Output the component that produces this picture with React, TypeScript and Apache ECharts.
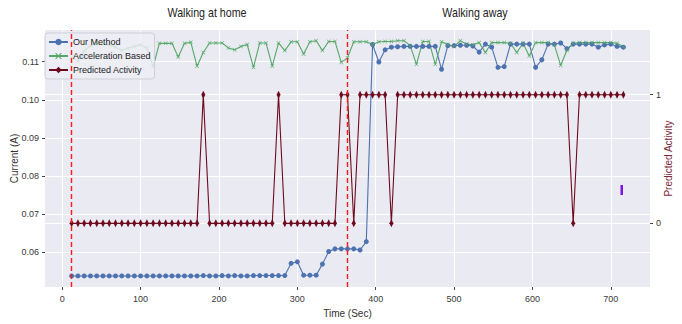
import React, { useEffect, useRef } from "react";
import * as echarts from "echarts";

const FONT = "'Liberation Sans', 'DejaVu Sans', sans-serif";

const timeSec = [
  12, 20, 28, 36, 44, 52, 60, 68, 76, 84, 92, 100, 108, 116, 124, 132, 140, 148, 156, 164,
  172, 180, 188, 196, 204, 212, 220, 228, 236, 244, 252, 260, 268, 276, 284, 292, 300, 308, 316, 324,
  332, 340, 348, 356, 364, 372, 380, 388, 396, 404, 412, 420, 428, 436, 444, 452, 460, 468, 476, 484,
  492, 500, 508, 516, 524, 532, 540, 548, 556, 564, 572, 580, 588, 596, 604, 612, 620, 628, 636, 644,
  652, 660, 668, 676, 684, 692, 700, 708, 716,
];

const ourMethod = [
  0.0538, 0.0538, 0.0538, 0.0538, 0.0538, 0.0538, 0.0538, 0.0538, 0.0538, 0.0538,
  0.0538, 0.0538, 0.0538, 0.0538, 0.0538, 0.0538, 0.0538, 0.0538, 0.0538, 0.0538,
  0.0538, 0.0539, 0.0538, 0.0538, 0.0539, 0.0538, 0.0539, 0.0538, 0.0538, 0.0539,
  0.0539, 0.0539, 0.0539, 0.0539, 0.0539, 0.0571, 0.0575, 0.0540, 0.0540, 0.0540,
  0.0569, 0.0602, 0.0609, 0.0609, 0.0609, 0.0609, 0.0606, 0.0628, 0.1145, 0.1099,
  0.1131, 0.1138, 0.1139, 0.1140, 0.1140, 0.1140, 0.1140, 0.1140, 0.1140, 0.1080,
  0.1142, 0.1142, 0.1143, 0.1143, 0.1141, 0.1125, 0.1146, 0.1138, 0.1085, 0.1087,
  0.1146, 0.1146, 0.1146, 0.1146, 0.1085, 0.1105, 0.1146, 0.1146, 0.1149, 0.1134,
  0.1146, 0.1146, 0.1146, 0.1146, 0.1138, 0.1144, 0.1146, 0.1140, 0.1138,
];

const accelerationBased = [
  0.1112, 0.1100, 0.1128, 0.1142, 0.1146, 0.1146, 0.1144, 0.1138, 0.1130, 0.1135,
  0.1140, 0.1144, 0.1135, 0.1087, 0.1148, 0.1148, 0.1148, 0.1112, 0.1148, 0.1151,
  0.1088, 0.1124, 0.1149, 0.1149, 0.1149, 0.1136, 0.1131, 0.1140, 0.1145, 0.1085,
  0.1149, 0.1149, 0.1088, 0.1149, 0.1129, 0.1152, 0.1152, 0.1120, 0.1152, 0.1155,
  0.1129, 0.1153, 0.1153, 0.1098, 0.1110, 0.1152, 0.1152, 0.1152, 0.1145, 0.1152,
  0.1153, 0.1153, 0.1155, 0.1155, 0.1142, 0.1093, 0.1153, 0.1153, 0.1093, 0.1152,
  0.1145, 0.1140, 0.1155, 0.1146, 0.1144, 0.1150, 0.1124, 0.1150, 0.1150, 0.1150,
  0.1148, 0.1124, 0.1148, 0.1115, 0.1150, 0.1150, 0.1150, 0.1144, 0.1090, 0.1130,
  0.1148, 0.1150, 0.1150, 0.1150, 0.1150, 0.1150, 0.1150, 0.1148, 0.1139,
];

const predictedActivity = [
  0, 0, 0, 0, 0, 0, 0, 0, 0, 0, 0, 0, 0, 0, 0, 0, 0, 0, 0, 0,
  0, 1, 0, 0, 0, 0, 0, 0, 0, 0, 0, 0, 0, 1, 0, 0, 0, 0, 0, 0,
  0, 0, 0, 1, 1, 0, 1, 1, 1, 1, 1, 0, 1, 1, 1, 1, 1, 1, 1, 1,
  1, 1, 1, 1, 1, 1, 1, 1, 1, 1, 1, 1, 1, 1, 1, 1, 1, 1, 1, 1,
  0, 1, 1, 1, 1, 1, 1, 1, 1,
];

const phaseLines = [12, 364];
const phaseTitles = ["Walking at home", "Walking away"];
const phaseTitleCenters = [207, 475];

const xTicks = [0, 100, 200, 300, 400, 500, 600, 700];
const yTicksLeft = [0.06, 0.07, 0.08, 0.09, 0.1, 0.11];
const yTicksRight = [0, 1];

const BLUE = "#4C72B0";
const GREEN = "#55A868";
const MAROON = "#6E0A1E";

const X_SHAPE = "path://M0,1L1,0L5,4L9,0L10,1L6,5L10,9L9,10L5,6L1,10L0,9L4,5Z";

export default function App() {
  const ref = useRef<HTMLDivElement>(null);

  useEffect(() => {
    if (!ref.current) return;
    const chart = echarts.init(ref.current, null, { renderer: "svg" });
    const pair = (arr: number[]) => arr.map((v, i) => [timeSec[i], v]);

    const axisLabelStyle = { color: "#3a3a3a", fontSize: 9, fontFamily: FONT };

    chart.setOption({
      animation: false,
      backgroundColor: "#ffffff",
      textStyle: { fontFamily: FONT },
      grid: {
        left: 45,
        right: 32,
        top: 30,
        bottom: 37,
        show: true,
        backgroundColor: "#EAEAF2",
        borderWidth: 0,
        containLabel: false,
        outerBoundsMode: "none",
      },
      legend: {
        data: ["Our Method", "Acceleration Based", "Predicted Activity"],
        orient: "vertical",
        left: 45,
        top: 33,
        z: 4,
        padding: [3, 4, 3, 3],
        itemWidth: 19,
        itemHeight: 8,
        itemGap: 2,
        backgroundColor: "rgba(238,238,245,0.82)",
        borderColor: "#cfcfd8",
        borderWidth: 1,
        borderRadius: 3,
        textStyle: { fontSize: 9, color: "#222", fontFamily: FONT, lineHeight: 12 },
      },
      xAxis: {
        type: "value",
        min: -22,
        max: 750,
        scale: true,
        name: "Time (Sec)",
        nameLocation: "middle",
        nameGap: 21,
        nameMoveOverlap: false,
        nameTextStyle: { fontSize: 10, color: "#333", fontFamily: FONT },
        axisLine: { show: false, onZero: false },
        axisTick: { show: true, length: 3, lineStyle: { color: "#444" }, customValues: xTicks },
        axisLabel: { ...axisLabelStyle, margin: 7, customValues: xTicks },
        splitLine: { show: true, lineStyle: { color: "#ffffff", width: 1 } },
      },
      yAxis: [
        {
          type: "value",
          min: 0.0509,
          max: 0.1183,
          name: "Current (A)",
          nameLocation: "middle",
          nameRotate: 90,
          nameGap: 26,
          nameMoveOverlap: false,
          nameTextStyle: { fontSize: 10, color: "#333", fontFamily: FONT },
          axisLine: { show: false, onZero: false },
          axisTick: { show: true, length: 3, lineStyle: { color: "#444" }, customValues: yTicksLeft },
          axisLabel: {
            ...axisLabelStyle,
            margin: 6,
            customValues: yTicksLeft,
            formatter: (v: number) => v.toFixed(2),
          },
          splitLine: { show: true, lineStyle: { color: "#ffffff", width: 1 } },
        },
        {
          type: "value",
          min: -0.495,
          max: 1.503,
          position: "right",
          name: "Predicted Activity",
          nameLocation: "middle",
          nameRotate: 90,
          nameGap: 13,
          nameMoveOverlap: false,
          nameTextStyle: { fontSize: 10, color: "#7b2838", fontFamily: FONT },
          axisLine: { show: false, onZero: false },
          axisTick: { show: true, length: 3, lineStyle: { color: "#444" }, customValues: yTicksRight },
          axisLabel: { ...axisLabelStyle, margin: 6, customValues: yTicksRight },
          splitLine: { show: true, lineStyle: { color: "#ffffff", width: 1 } },
        },
      ],
      graphic: [
        ...phaseTitles.map((t, i) => ({
          type: "text",
          x: phaseTitleCenters[i],
          y: 13,
          scaleX: 0.82,
          style: {
            text: t,
            fill: "#222",
            font: `13px ${FONT}`,
            align: "center",
            verticalAlign: "middle",
          },
        })),
        {
          type: "rect",
          shape: { x: 620.5, y: 185, width: 2.5, height: 10 },
          style: { fill: "#7a14e0" },
        },
      ],
      series: [
        {
          name: "Our Method",
          type: "line",
          yAxisIndex: 0,
          data: pair(ourMethod),
          symbol: "circle",
          symbolSize: 5,
          showAllSymbol: true,
          itemStyle: { color: BLUE },
          lineStyle: { color: BLUE, width: 1.1 },
          z: 2,
        },
        {
          name: "Acceleration Based",
          type: "line",
          yAxisIndex: 0,
          data: pair(accelerationBased),
          symbol: X_SHAPE,
          symbolSize: 4,
          showAllSymbol: true,
          itemStyle: { color: GREEN },
          lineStyle: { color: GREEN, width: 1.1 },
          z: 2,
        },
        {
          name: "Predicted Activity",
          type: "line",
          yAxisIndex: 1,
          data: pair(predictedActivity),
          symbol: "diamond",
          symbolSize: [4, 8],
          showAllSymbol: true,
          itemStyle: { color: MAROON },
          lineStyle: { color: MAROON, width: 1.1 },
          z: 3,
        },
        {
          name: "phases",
          type: "line",
          data: [],
          z: 10,
          itemStyle: { color: "#ff1a1a" },
          markLine: {
            silent: true,
            symbol: "none",
            z: 10,
            label: { show: false },
            itemStyle: { color: "#ff1a1a" },
            lineStyle: { color: "#ff1a1a", type: [5, 3], width: 1.4, opacity: 1 },
            data: phaseLines.map((x) => ({ xAxis: x })),
          },
        },
      ],
    });
    return () => chart.dispose();
  }, []);

  return (
    <div
      ref={ref}
      style={{ position: "absolute", left: 0, top: 0, width: 682, height: 324 }}
    />
  );
}
